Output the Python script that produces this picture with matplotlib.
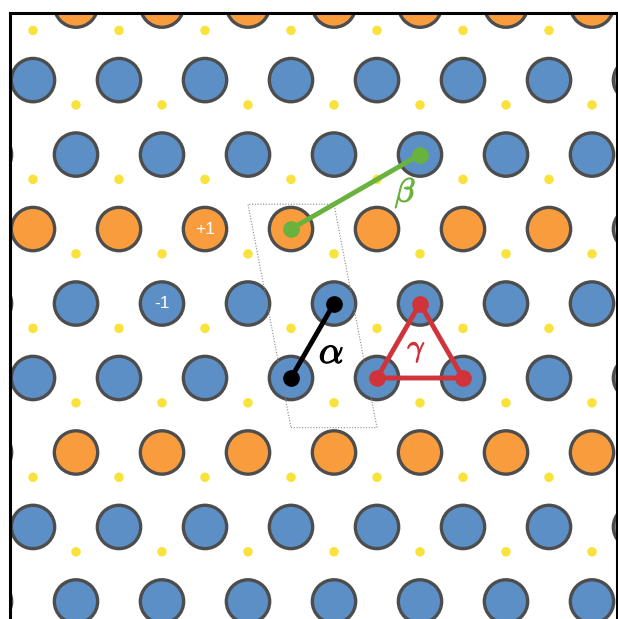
import numpy as np
import matplotlib
matplotlib.use('Agg')
import matplotlib.pyplot as plt
from matplotlib.patches import Circle, Polygon
import matplotlib.patheffects as pe

plt.rcParams['mathtext.fontset'] = 'cm'
plt.rcParams['font.family'] = ['Liberation Sans', 'DejaVu Sans']

# triangular lattice, lattice constant = 1
rows = list(range(-4, 7))          # row index k, y = k*sqrt(3)/2
cols = list(range(-5, 7))
orange_rows = [k for k in rows if k % 3 == 2]   # charged rows

blue = '#5b8fc5'
orange = '#f99c3d'
yellow = '#f9e23b'
edge = '#4d4d4d'

# charge labels
charge_labels = [('+1', -1.0, 2), ('-1', -1.5, 1)]

# bond vectors
alpha_pts = [(0.0, 0), (0.5, 1)]          # (x, row)
beta_pts = [(0.0, 2), (1.5, 3)]
gamma_pts = [(1.0, 0), (2.0, 0), (1.5, 1)]

# supercell: origin and edge vectors
cell_origin = (0.0, -1 / np.sqrt(3))
cell_a = (1.0, 0.0)
cell_b = (-0.5, 3 * np.sqrt(3) / 2)

h = np.sqrt(3) / 2

fig = plt.figure(figsize=(6.18, 6.19), dpi=100)
ax = fig.add_axes([10 / 618, 0, 606.5 / 618, (619 - 12.7) / 619])
ax.set_xlim(-281 / 86, 325.5 / 86)
ax.set_ylim(-241 / 86, 365.3 / 86)
ax.set_xticks([])
ax.set_yticks([])
ax.spines['bottom'].set_visible(False)
for s in ['top', 'left', 'right']:
    ax.spines[s].set_linewidth(2.2)

for k in rows:
    for n in cols:
        x = n + (0.5 if k % 2 else 0.0)
        y = k * h
        fc = orange if k in orange_rows else blue
        ax.add_patch(Circle((x, y), 0.252, facecolor=fc, edgecolor=edge,
                            linewidth=2.4, zorder=2))
        ax.add_patch(Circle((x, y + 1 / np.sqrt(3)), 0.055, facecolor=yellow,
                            edgecolor='none', zorder=2))

for txt, x, k in charge_labels:
    ax.text(x, k * h, txt, color='white', fontsize=12.5, ha='center',
            va='center', zorder=3)

# dotted supercell
ox, oy = cell_origin
cell = [(ox, oy), (ox + cell_a[0], oy + cell_a[1]),
        (ox + cell_a[0] + cell_b[0], oy + cell_a[1] + cell_b[1]),
        (ox + cell_b[0], oy + cell_b[1])]
ax.add_patch(Polygon(cell, closed=True, fill=False, edgecolor='#888888',
                     linestyle=(0, (1, 1.5)), linewidth=0.8, zorder=3))


def greek(x, y, s, size, color):
    t = ax.text(x, y, s, fontsize=size, color=color, ha='center',
                va='center', zorder=4)
    t.set_path_effects([pe.withStroke(linewidth=0.8, foreground=color)])


# alpha bond
ax.plot([p[0] for p in alpha_pts], [p[1] * h for p in alpha_pts], color='black',
        linewidth=3.5, marker='o', markersize=11, zorder=4)
greek(0.47, 0.29, r'$\alpha$', 28, 'black')

# beta bond
green = '#6ab23e'
ax.plot([p[0] for p in beta_pts], [p[1] * h for p in beta_pts], color=green,
        linewidth=3.5, marker='o', markersize=11, zorder=4)
greek(1.33, 2.15, r'$\beta$', 24, green)

# gamma triangle
red = '#d0343a'
gx = [p[0] for p in gamma_pts] + [gamma_pts[0][0]]
gy = [p[1] * h for p in gamma_pts] + [gamma_pts[0][1] * h]
ax.plot(gx, gy, color=red, linewidth=3.5, zorder=4)
ax.plot(gx[:-1], gy[:-1], 'o', color=red, markersize=11, zorder=4)
greek(1.46, 0.33, r'$\gamma$', 22, red)

fig.savefig('out.png', dpi=100)
